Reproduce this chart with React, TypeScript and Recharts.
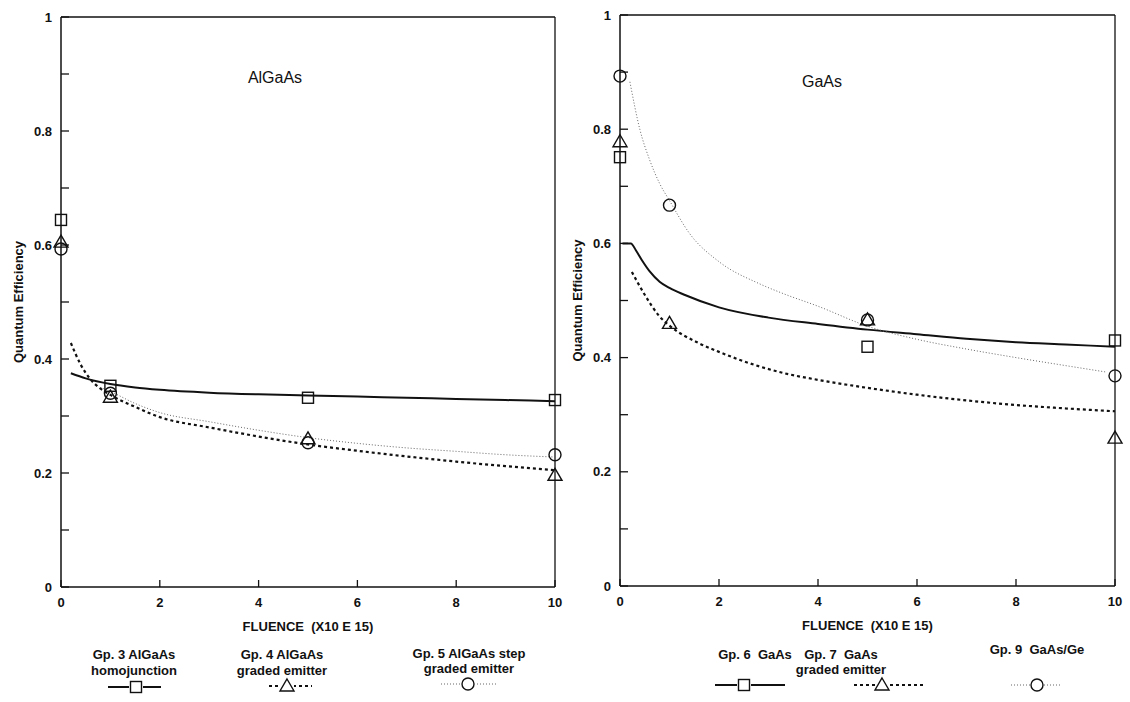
import React from "react";
import { ComposedChart, Line, Scatter, XAxis, YAxis, ReferenceLine, Label } from "recharts";

const xTicks = [0, 2, 4, 6, 8, 10];
const yTicks = [0, 0.1, 0.2, 0.3, 0.4, 0.5, 0.6, 0.7, 0.8, 0.9, 1];

// AlGaAs panel - measured points
const gp3Points = [
  { x: 0, y: 0.644 },
  { x: 1, y: 0.353 },
  { x: 5, y: 0.332 },
  { x: 10, y: 0.328 },
];
const gp4Points = [
  { x: 0, y: 0.605 },
  { x: 1, y: 0.333 },
  { x: 5, y: 0.26 },
  { x: 10, y: 0.196 },
];
const gp5Points = [
  { x: 0, y: 0.593 },
  { x: 1, y: 0.34 },
  { x: 5, y: 0.253 },
  { x: 10, y: 0.232 },
];

// AlGaAs panel - fitted curves
const gp3Fit = [
  { x: 0.2, y: 0.375 }, { x: 0.5, y: 0.366 }, { x: 1, y: 0.356 }, { x: 1.5, y: 0.35 },
  { x: 2, y: 0.346 }, { x: 3, y: 0.341 }, { x: 4, y: 0.338 }, { x: 5, y: 0.336 },
  { x: 6, y: 0.334 }, { x: 7, y: 0.332 }, { x: 8, y: 0.33 }, { x: 9, y: 0.328 },
  { x: 10, y: 0.326 },
];
const gp4Fit = [
  { x: 0.2, y: 0.428 }, { x: 0.4, y: 0.39 }, { x: 0.6, y: 0.364 }, { x: 0.8, y: 0.348 },
  { x: 1, y: 0.337 }, { x: 1.5, y: 0.316 }, { x: 2, y: 0.298 }, { x: 3, y: 0.28 },
  { x: 4, y: 0.264 }, { x: 5, y: 0.25 }, { x: 6, y: 0.239 }, { x: 7, y: 0.229 },
  { x: 8, y: 0.22 }, { x: 9, y: 0.212 }, { x: 10, y: 0.205 },
];
const gp5Fit = [
  { x: 0.8, y: 0.35 }, { x: 1, y: 0.343 }, { x: 1.5, y: 0.322 }, { x: 2, y: 0.306 },
  { x: 3, y: 0.29 }, { x: 4, y: 0.275 }, { x: 5, y: 0.262 }, { x: 6, y: 0.252 },
  { x: 7, y: 0.244 }, { x: 8, y: 0.238 }, { x: 9, y: 0.232 }, { x: 10, y: 0.228 },
];

// GaAs panel - measured points
const gp6Points = [
  { x: 0, y: 0.751 },
  { x: 5, y: 0.419 },
  { x: 10, y: 0.43 },
];
const gp7Points = [
  { x: 0, y: 0.778 },
  { x: 1, y: 0.46 },
  { x: 5, y: 0.466 },
  { x: 10, y: 0.259 },
];
const gp9Points = [
  { x: 0, y: 0.893 },
  { x: 1, y: 0.667 },
  { x: 5, y: 0.466 },
  { x: 10, y: 0.368 },
];

// GaAs panel - fitted curves
const gp6Fit = [
  { x: 0.05, y: 0.6 }, { x: 0.22, y: 0.6 }, { x: 0.32, y: 0.588 }, { x: 0.44, y: 0.571 },
  { x: 0.6, y: 0.551 }, { x: 0.8, y: 0.533 }, { x: 1, y: 0.522 }, { x: 1.3, y: 0.51 },
  { x: 2, y: 0.488 }, { x: 3, y: 0.47 }, { x: 4, y: 0.459 }, { x: 5, y: 0.449 },
  { x: 6, y: 0.441 }, { x: 7, y: 0.433 }, { x: 8, y: 0.427 }, { x: 9, y: 0.423 },
  { x: 10, y: 0.419 },
];
const gp7Fit = [
  { x: 0.24, y: 0.55 }, { x: 0.5, y: 0.51 }, { x: 0.8, y: 0.472 }, { x: 1, y: 0.456 },
  { x: 1.6, y: 0.425 }, { x: 2, y: 0.41 }, { x: 2.8, y: 0.385 }, { x: 3.3, y: 0.373 },
  { x: 4, y: 0.361 }, { x: 5, y: 0.347 }, { x: 6, y: 0.335 }, { x: 7, y: 0.325 },
  { x: 8, y: 0.317 }, { x: 9, y: 0.311 }, { x: 10, y: 0.306 },
];
const gp9Fit = [
  { x: 0.2, y: 0.883 }, { x: 0.4, y: 0.8 }, { x: 0.6, y: 0.746 }, { x: 0.8, y: 0.705 },
  { x: 1, y: 0.675 }, { x: 1.4, y: 0.618 }, { x: 2, y: 0.568 }, { x: 2.8, y: 0.53 },
  { x: 3.3, y: 0.512 }, { x: 4, y: 0.49 }, { x: 5, y: 0.455 }, { x: 6, y: 0.432 },
  { x: 7, y: 0.415 }, { x: 8, y: 0.4 }, { x: 9, y: 0.386 }, { x: 9.8, y: 0.375 },
];

const INK = "#111";
const FONT = "'Liberation Sans', Arial, sans-serif";

const solid = { stroke: INK, strokeWidth: 2 };
const dashed = { stroke: INK, strokeWidth: 2.2, strokeDasharray: "3 3" };
const dotted = { stroke: "#666", strokeWidth: 1, strokeDasharray: "1 2" };

const SquareMark = (p: any) => (
  <rect x={p.cx - 5.5} y={p.cy - 5.5} width={11} height={11} fill="none" stroke={INK} strokeWidth={1.4} />
);
const TriangleMark = (p: any) => (
  <path
    d={`M${p.cx},${p.cy - 7} L${p.cx + 7},${p.cy + 5} L${p.cx - 7},${p.cy + 5} Z`}
    fill="none"
    stroke={INK}
    strokeWidth={1.4}
  />
);
const CircleMark = (p: any) => (
  <circle cx={p.cx} cy={p.cy} r={6} fill="none" stroke={INK} strokeWidth={1.4} />
);

// only every other tick (0, 0.2, ...) gets a label, the 0.1 steps are bare ticks
const YTick = (props: any) => {
  const { x, y, payload } = props;
  const v = payload.value;
  const major = Math.abs(v * 5 - Math.round(v * 5)) < 1e-6;
  if (!major) return <g />;
  return (
    <text x={x} y={y} dy={4.5} textAnchor="end" fill={INK} fontSize={13} fontWeight={700} fontFamily={FONT}>
      {String(Math.round(v * 10) / 10)}
    </text>
  );
};

type Fit = { data: { x: number; y: number }[]; style: any };
type Marks = { data: { x: number; y: number }[]; shape: any };

function Panel(props: {
  left: number;
  margin: { top: number; right: number; left: number; bottom: number };
  yWidth: number;
  labelOffset: number;
  fits: Fit[];
  marks: Marks[];
}) {
  const { left, margin, yWidth, labelOffset, fits, marks } = props;
  const textStyle = { fill: INK, fontSize: 13, fontWeight: 700, fontFamily: FONT };
  return (
    <div style={{ position: "absolute", left, top: 0 }}>
      <ComposedChart width={565} height={640} margin={margin}>
        <XAxis
          type="number"
          dataKey="x"
          domain={[0, 10]}
          ticks={xTicks}
          interval={0}
          height={44}
          tickSize={-7}
          tickMargin={18}
          axisLine={{ stroke: INK, strokeWidth: 1.5 }}
          tickLine={{ stroke: INK, strokeWidth: 1.3 }}
          tick={textStyle}
        >
          <Label value={"FLUENCE\u00a0\u00a0(X10 E 15)"} position="insideBottom" offset={0} style={textStyle} />
        </XAxis>
        <YAxis
          type="number"
          dataKey="y"
          domain={[0, 1]}
          ticks={yTicks}
          interval={0}
          width={yWidth}
          tickSize={-8}
          tickMargin={17}
          tickLine={{ stroke: INK, strokeWidth: 1.3 }}
          axisLine={{ stroke: INK, strokeWidth: 1.5 }}
          tick={<YTick />}
        >
          <Label
            value="Quantum Efficiency"
            angle={-90}
            position="insideLeft"
            offset={labelOffset}
            style={{ ...textStyle, textAnchor: "middle" }}
          />
        </YAxis>
        <ReferenceLine y={1} stroke={INK} strokeWidth={1.5} />
        <ReferenceLine x={10} stroke={INK} strokeWidth={1.3} />
        {fits.map((f, i) => (
          <Line
            key={"f" + i}
            data={f.data}
            dataKey="y"
            type="monotone"
            dot={false}
            activeDot={false}
            {...f.style}
            isAnimationActive={false}
          />
        ))}
        {marks.map((m, i) => (
          <Scatter key={"m" + i} data={m.data} dataKey="y" shape={m.shape} isAnimationActive={false} />
        ))}
      </ComposedChart>
    </div>
  );
}

const legendEntries = [
  { lines: ["Gp. 3 AlGaAs", "homojunction"], cx: 134, ty: [655, 671], line: solid, x1: 108, x2: 161, sy: 687, mx: 136, mark: "square" },
  { lines: ["Gp. 4 AlGaAs", "graded emitter"], cx: 282, ty: [655, 671], line: dashed, x1: 269, x2: 312, sy: 686, mx: 287, mark: "triangle" },
  { lines: ["Gp. 5 AlGaAs step", "graded emitter"], cx: 469, ty: [654, 669], line: dotted, x1: 441, x2: 497, sy: 684, mx: 468, mark: "circle" },
  { lines: ["Gp. 6\u00a0\u00a0GaAs"], cx: 755, ty: [655], line: solid, x1: 715, x2: 785, sy: 685, mx: 744, mark: "square" },
  { lines: ["Gp. 7\u00a0\u00a0GaAs", "graded emitter"], cx: 841, ty: [655, 670], line: dashed, x1: 854, x2: 924, sy: 685, mx: 882, mark: "triangle" },
  { lines: ["Gp. 9\u00a0\u00a0GaAs/Ge"], cx: 1037, ty: [650], line: dotted, x1: 1011, x2: 1062, sy: 685, mx: 1037, mark: "circle" },
];

const markFor = (kind: string, cx: number, cy: number) => {
  if (kind === "square") return <SquareMark cx={cx} cy={cy} />;
  if (kind === "triangle") return <TriangleMark cx={cx} cy={cy} />;
  return <CircleMark cx={cx} cy={cy} />;
};

export default function App() {
  return (
    <div
      style={{
        position: "absolute",
        left: 0,
        top: 0,
        width: 1130,
        height: 702,
        background: "#fff",
        fontFamily: FONT,
        color: INK,
        overflow: "hidden",
      }}
    >
      <Panel
        left={0}
        margin={{ top: 17, right: 10, left: 9, bottom: 9 }}
        yWidth={52}
        labelOffset={9}
        fits={[
          { data: gp3Fit, style: solid },
          { data: gp4Fit, style: dashed },
          { data: gp5Fit, style: dotted },
        ]}
        marks={[
          { data: gp3Points, shape: SquareMark },
          { data: gp4Points, shape: TriangleMark },
          { data: gp5Points, shape: CircleMark },
        ]}
      />
      <Panel
        left={565}
        margin={{ top: 15, right: 15, left: 4, bottom: 10 }}
        yWidth={51}
        labelOffset={8}
        fits={[
          { data: gp6Fit, style: solid },
          { data: gp7Fit, style: dashed },
          { data: gp9Fit, style: dotted },
        ]}
        marks={[
          { data: gp6Points, shape: SquareMark },
          { data: gp7Points, shape: TriangleMark },
          { data: gp9Points, shape: CircleMark },
        ]}
      />

      <div style={{ position: "absolute", left: 275, top: 69, transform: "translateX(-50%)", fontSize: 16, lineHeight: "18px" }}>
        AlGaAs
      </div>
      <div style={{ position: "absolute", left: 822, top: 73, transform: "translateX(-50%)", fontSize: 16, lineHeight: "18px" }}>
        GaAs
      </div>

      {legendEntries.map((e, i) =>
        e.lines.map((t, j) => (
          <div
            key={`t${i}-${j}`}
            style={{
              position: "absolute",
              left: e.cx,
              top: e.ty[j] - 8,
              transform: "translateX(-50%)",
              whiteSpace: "nowrap",
              fontSize: 13,
              fontWeight: 700,
              lineHeight: "16px",
            }}
          >
            {t}
          </div>
        ))
      )}
      <svg width={1130} height={702} style={{ position: "absolute", left: 0, top: 0, pointerEvents: "none" }}>
        {legendEntries.map((e, i) => (
          <g key={"s" + i}>
            <line x1={e.x1} x2={e.x2} y1={e.sy} y2={e.sy} {...e.line} />
            <rect x={e.mx - 7} y={e.sy - 7} width={14} height={14} fill="#fff" />
            {markFor(e.mark, e.mx, e.sy)}
          </g>
        ))}
      </svg>
    </div>
  );
}
